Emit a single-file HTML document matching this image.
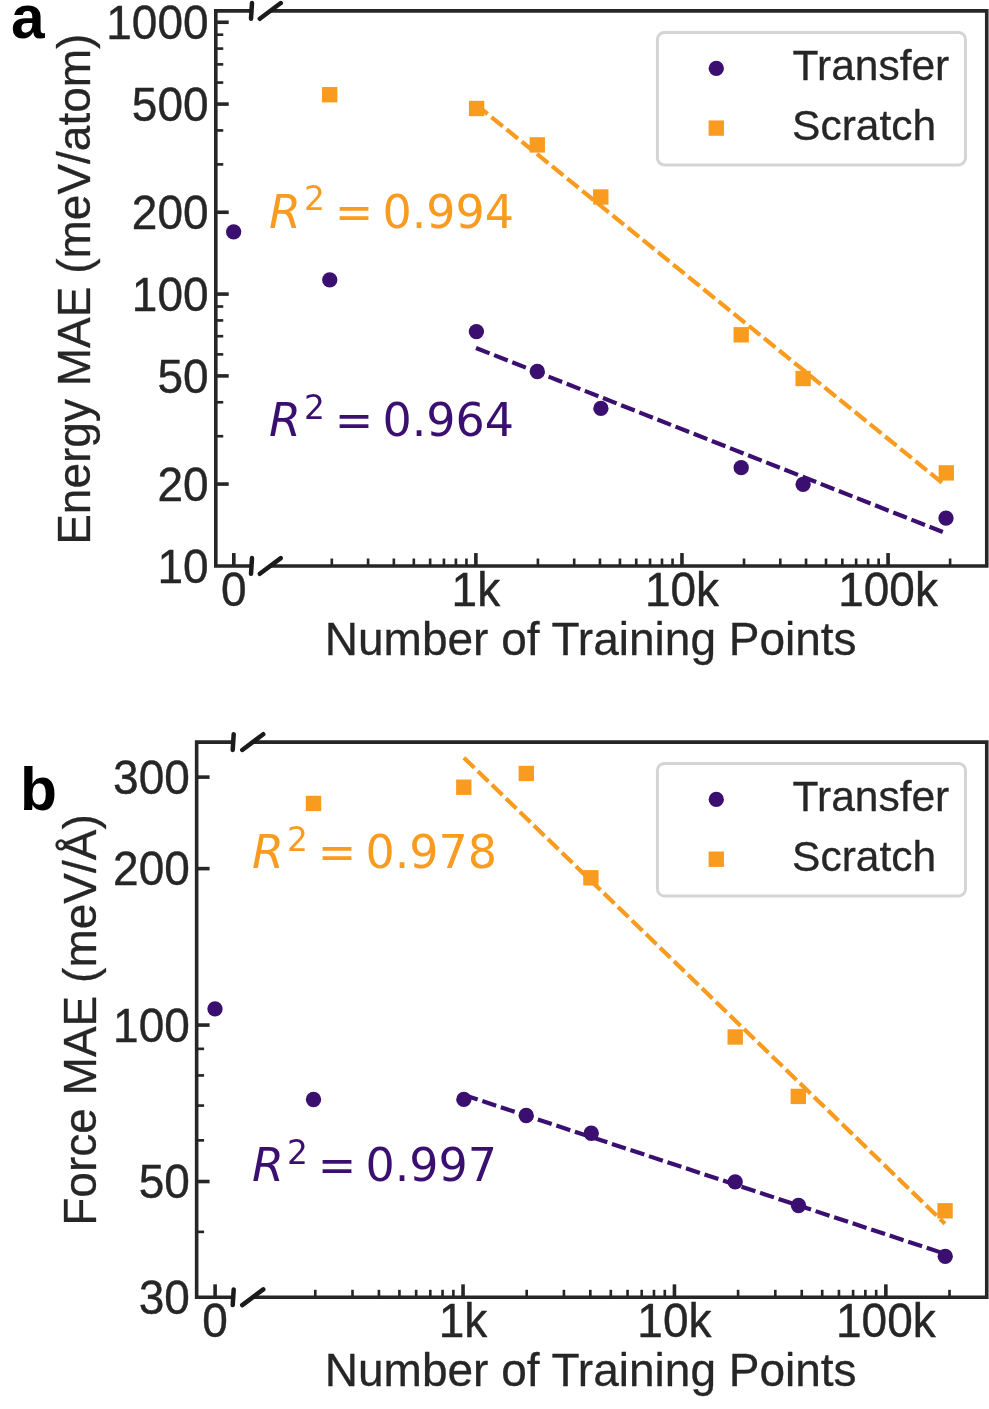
<!DOCTYPE html>
<html lang="en">
<head>
<meta charset="utf-8">
<title>Learning curves: transfer vs scratch</title>
<style>
html, body { margin: 0; padding: 0; background: #ffffff; }
body { width: 989px; height: 1409px; overflow: hidden; }
svg { display: block; opacity: 0.999; will-change: transform; }
text { white-space: pre; }
</style>
</head>
<body>
<svg width="989" height="1409" viewBox="0 0 989 1409">
<rect x="0" y="0" width="989" height="1409" fill="#ffffff"/>
<path d="M251.5 10.9 H215.8 V565.95 H251.5" fill="none" stroke="#262626" stroke-width="3.6" stroke-linejoin="miter"/>
<path d="M270.3 10.9 H986.75 V565.95 H270.3" fill="none" stroke="#262626" stroke-width="3.6" stroke-linejoin="miter"/>
<line x1="215.8" y1="22.26" x2="228.7" y2="22.26" stroke="#262626" stroke-width="3.6" stroke-linecap="butt"/>
<line x1="215.8" y1="104.09" x2="228.7" y2="104.09" stroke="#262626" stroke-width="3.6" stroke-linecap="butt"/>
<line x1="215.8" y1="212.25" x2="228.7" y2="212.25" stroke="#262626" stroke-width="3.6" stroke-linecap="butt"/>
<line x1="215.8" y1="294.08" x2="228.7" y2="294.08" stroke="#262626" stroke-width="3.6" stroke-linecap="butt"/>
<line x1="215.8" y1="375.91" x2="228.7" y2="375.91" stroke="#262626" stroke-width="3.6" stroke-linecap="butt"/>
<line x1="215.8" y1="484.07" x2="228.7" y2="484.07" stroke="#262626" stroke-width="3.6" stroke-linecap="butt"/>
<line x1="215.8" y1="34.7" x2="223.25" y2="34.7" stroke="#262626" stroke-width="2.65" stroke-linecap="butt"/>
<line x1="215.8" y1="48.6" x2="223.25" y2="48.6" stroke="#262626" stroke-width="2.65" stroke-linecap="butt"/>
<line x1="215.8" y1="64.37" x2="223.25" y2="64.37" stroke="#262626" stroke-width="2.65" stroke-linecap="butt"/>
<line x1="215.8" y1="82.56" x2="223.25" y2="82.56" stroke="#262626" stroke-width="2.65" stroke-linecap="butt"/>
<line x1="215.8" y1="130.43" x2="223.25" y2="130.43" stroke="#262626" stroke-width="2.65" stroke-linecap="butt"/>
<line x1="215.8" y1="164.39" x2="223.25" y2="164.39" stroke="#262626" stroke-width="2.65" stroke-linecap="butt"/>
<line x1="215.8" y1="306.52" x2="223.25" y2="306.52" stroke="#262626" stroke-width="2.65" stroke-linecap="butt"/>
<line x1="215.8" y1="320.42" x2="223.25" y2="320.42" stroke="#262626" stroke-width="2.65" stroke-linecap="butt"/>
<line x1="215.8" y1="336.19" x2="223.25" y2="336.19" stroke="#262626" stroke-width="2.65" stroke-linecap="butt"/>
<line x1="215.8" y1="354.38" x2="223.25" y2="354.38" stroke="#262626" stroke-width="2.65" stroke-linecap="butt"/>
<line x1="215.8" y1="402.25" x2="223.25" y2="402.25" stroke="#262626" stroke-width="2.65" stroke-linecap="butt"/>
<line x1="215.8" y1="436.21" x2="223.25" y2="436.21" stroke="#262626" stroke-width="2.65" stroke-linecap="butt"/>
<text transform="translate(208.6 38.86) scale(1.0000 1.0450)" font-size="46" text-anchor="end" fill="#262626" font-family='"Liberation Sans", sans-serif' font-weight="normal" font-style="normal" stroke="#262626" stroke-width="0.4" stroke-linejoin="round">1000</text>
<text transform="translate(208.6 120.69) scale(1.0000 1.0450)" font-size="46" text-anchor="end" fill="#262626" font-family='"Liberation Sans", sans-serif' font-weight="normal" font-style="normal" stroke="#262626" stroke-width="0.4" stroke-linejoin="round">500</text>
<text transform="translate(208.6 228.85) scale(1.0000 1.0450)" font-size="46" text-anchor="end" fill="#262626" font-family='"Liberation Sans", sans-serif' font-weight="normal" font-style="normal" stroke="#262626" stroke-width="0.4" stroke-linejoin="round">200</text>
<text transform="translate(208.6 310.68) scale(1.0000 1.0450)" font-size="46" text-anchor="end" fill="#262626" font-family='"Liberation Sans", sans-serif' font-weight="normal" font-style="normal" stroke="#262626" stroke-width="0.4" stroke-linejoin="round">100</text>
<text transform="translate(208.6 392.51) scale(1.0000 1.0450)" font-size="46" text-anchor="end" fill="#262626" font-family='"Liberation Sans", sans-serif' font-weight="normal" font-style="normal" stroke="#262626" stroke-width="0.4" stroke-linejoin="round">50</text>
<text transform="translate(208.6 500.67) scale(1.0000 1.0450)" font-size="46" text-anchor="end" fill="#262626" font-family='"Liberation Sans", sans-serif' font-weight="normal" font-style="normal" stroke="#262626" stroke-width="0.4" stroke-linejoin="round">20</text>
<text transform="translate(208.6 582.5) scale(1.0000 1.0450)" font-size="46" text-anchor="end" fill="#262626" font-family='"Liberation Sans", sans-serif' font-weight="normal" font-style="normal" stroke="#262626" stroke-width="0.4" stroke-linejoin="round">10</text>
<line x1="233.8" y1="565.95" x2="233.8" y2="553.05" stroke="#262626" stroke-width="3.6" stroke-linecap="butt"/>
<text transform="translate(233.8 605.65) scale(1.0000 1.0450)" font-size="46" text-anchor="middle" fill="#262626" font-family='"Liberation Sans", sans-serif' font-weight="normal" font-style="normal" stroke="#262626" stroke-width="0.4" stroke-linejoin="round">0</text>
<line x1="475.87" y1="565.95" x2="475.87" y2="553.05" stroke="#262626" stroke-width="3.6" stroke-linecap="butt"/>
<text transform="translate(475.87 605.65) scale(1.0000 1.0450)" font-size="46" text-anchor="middle" fill="#262626" font-family='"Liberation Sans", sans-serif' font-weight="normal" font-style="normal" stroke="#262626" stroke-width="0.4" stroke-linejoin="round">1k</text>
<line x1="681.97" y1="565.95" x2="681.97" y2="553.05" stroke="#262626" stroke-width="3.6" stroke-linecap="butt"/>
<text transform="translate(681.97 605.65) scale(1.0000 1.0450)" font-size="46" text-anchor="middle" fill="#262626" font-family='"Liberation Sans", sans-serif' font-weight="normal" font-style="normal" stroke="#262626" stroke-width="0.4" stroke-linejoin="round">10k</text>
<line x1="888.07" y1="565.95" x2="888.07" y2="553.05" stroke="#262626" stroke-width="3.6" stroke-linecap="butt"/>
<text transform="translate(888.07 605.65) scale(1.0000 1.0450)" font-size="46" text-anchor="middle" fill="#262626" font-family='"Liberation Sans", sans-serif' font-weight="normal" font-style="normal" stroke="#262626" stroke-width="0.4" stroke-linejoin="round">100k</text>
<line x1="331.81" y1="565.95" x2="331.81" y2="558.5" stroke="#262626" stroke-width="2.65" stroke-linecap="butt"/>
<line x1="368.1" y1="565.95" x2="368.1" y2="558.5" stroke="#262626" stroke-width="2.65" stroke-linecap="butt"/>
<line x1="393.85" y1="565.95" x2="393.85" y2="558.5" stroke="#262626" stroke-width="2.65" stroke-linecap="butt"/>
<line x1="413.83" y1="565.95" x2="413.83" y2="558.5" stroke="#262626" stroke-width="2.65" stroke-linecap="butt"/>
<line x1="430.15" y1="565.95" x2="430.15" y2="558.5" stroke="#262626" stroke-width="2.65" stroke-linecap="butt"/>
<line x1="443.94" y1="565.95" x2="443.94" y2="558.5" stroke="#262626" stroke-width="2.65" stroke-linecap="butt"/>
<line x1="455.9" y1="565.95" x2="455.9" y2="558.5" stroke="#262626" stroke-width="2.65" stroke-linecap="butt"/>
<line x1="466.44" y1="565.95" x2="466.44" y2="558.5" stroke="#262626" stroke-width="2.65" stroke-linecap="butt"/>
<line x1="537.91" y1="565.95" x2="537.91" y2="558.5" stroke="#262626" stroke-width="2.65" stroke-linecap="butt"/>
<line x1="574.2" y1="565.95" x2="574.2" y2="558.5" stroke="#262626" stroke-width="2.65" stroke-linecap="butt"/>
<line x1="599.95" y1="565.95" x2="599.95" y2="558.5" stroke="#262626" stroke-width="2.65" stroke-linecap="butt"/>
<line x1="619.93" y1="565.95" x2="619.93" y2="558.5" stroke="#262626" stroke-width="2.65" stroke-linecap="butt"/>
<line x1="636.25" y1="565.95" x2="636.25" y2="558.5" stroke="#262626" stroke-width="2.65" stroke-linecap="butt"/>
<line x1="650.04" y1="565.95" x2="650.04" y2="558.5" stroke="#262626" stroke-width="2.65" stroke-linecap="butt"/>
<line x1="662" y1="565.95" x2="662" y2="558.5" stroke="#262626" stroke-width="2.65" stroke-linecap="butt"/>
<line x1="672.54" y1="565.95" x2="672.54" y2="558.5" stroke="#262626" stroke-width="2.65" stroke-linecap="butt"/>
<line x1="744.01" y1="565.95" x2="744.01" y2="558.5" stroke="#262626" stroke-width="2.65" stroke-linecap="butt"/>
<line x1="780.3" y1="565.95" x2="780.3" y2="558.5" stroke="#262626" stroke-width="2.65" stroke-linecap="butt"/>
<line x1="806.05" y1="565.95" x2="806.05" y2="558.5" stroke="#262626" stroke-width="2.65" stroke-linecap="butt"/>
<line x1="826.03" y1="565.95" x2="826.03" y2="558.5" stroke="#262626" stroke-width="2.65" stroke-linecap="butt"/>
<line x1="842.35" y1="565.95" x2="842.35" y2="558.5" stroke="#262626" stroke-width="2.65" stroke-linecap="butt"/>
<line x1="856.14" y1="565.95" x2="856.14" y2="558.5" stroke="#262626" stroke-width="2.65" stroke-linecap="butt"/>
<line x1="868.1" y1="565.95" x2="868.1" y2="558.5" stroke="#262626" stroke-width="2.65" stroke-linecap="butt"/>
<line x1="878.64" y1="565.95" x2="878.64" y2="558.5" stroke="#262626" stroke-width="2.65" stroke-linecap="butt"/>
<line x1="950.11" y1="565.95" x2="950.11" y2="558.5" stroke="#262626" stroke-width="2.65" stroke-linecap="butt"/>
<line x1="251" y1="18.75" x2="252" y2="3.05" stroke="#1a1a1a" stroke-width="4.5" stroke-linecap="round"/>
<line x1="259.8" y1="18.75" x2="280.8" y2="3.05" stroke="#1a1a1a" stroke-width="4.5" stroke-linecap="round"/>
<line x1="251" y1="573.8" x2="252" y2="558.1" stroke="#1a1a1a" stroke-width="4.5" stroke-linecap="round"/>
<line x1="259.8" y1="573.8" x2="280.8" y2="558.1" stroke="#1a1a1a" stroke-width="4.5" stroke-linecap="round"/>
<line x1="476.3" y1="104.8" x2="942" y2="482.6" stroke="#f89b1f" stroke-width="4.2" stroke-linecap="butt" stroke-dasharray="14.6 4.9"/>
<line x1="476" y1="348" x2="942.8" y2="532" stroke="#3b0f70" stroke-width="4.2" stroke-linecap="butt" stroke-dasharray="14.6 4.9"/>
<rect x="322.02" y="87.03" width="15.35" height="15.35" fill="#f89b1f"/>
<rect x="468.93" y="100.83" width="15.35" height="15.35" fill="#f89b1f"/>
<rect x="529.62" y="137.22" width="15.35" height="15.35" fill="#f89b1f"/>
<rect x="593.12" y="189.32" width="15.35" height="15.35" fill="#f89b1f"/>
<rect x="733.53" y="327.12" width="15.35" height="15.35" fill="#f89b1f"/>
<rect x="795.43" y="370.82" width="15.35" height="15.35" fill="#f89b1f"/>
<rect x="938.62" y="465.22" width="15.35" height="15.35" fill="#f89b1f"/>
<circle cx="233.65" cy="231.85" r="7.67" fill="#3b0f70"/>
<circle cx="329.75" cy="279.8" r="7.67" fill="#3b0f70"/>
<circle cx="476.4" cy="331.6" r="7.67" fill="#3b0f70"/>
<circle cx="537.3" cy="371.5" r="7.67" fill="#3b0f70"/>
<circle cx="600.9" cy="408.4" r="7.67" fill="#3b0f70"/>
<circle cx="741.2" cy="467.7" r="7.67" fill="#3b0f70"/>
<circle cx="803.1" cy="484.3" r="7.67" fill="#3b0f70"/>
<circle cx="946" cy="518.1" r="7.67" fill="#3b0f70"/>
<rect x="657.4" y="32.4" width="308.1" height="132.5" rx="7" ry="7" fill="#ffffff" fill-opacity="0.8" stroke="#d4d4d4" stroke-width="3.0"/>
<circle cx="716.3" cy="68.3" r="7.67" fill="#3b0f70"/>
<rect x="708.62" y="120.42" width="15.35" height="15.35" fill="#f89b1f"/>
<text x="792.6" y="79.5" font-size="42.5" text-anchor="start" fill="#262626" font-family='"Liberation Sans", sans-serif' font-weight="normal" font-style="normal" stroke="#262626" stroke-width="0.3" stroke-linejoin="round">Transfer</text>
<text x="792.1" y="139.7" font-size="42.5" text-anchor="start" fill="#262626" font-family='"Liberation Sans", sans-serif' font-weight="normal" font-style="normal" stroke="#262626" stroke-width="0.3" stroke-linejoin="round">Scratch</text>
<text x="268.9" y="227.5" font-size="46" fill="#f89b1f" font-family='"DejaVu Sans", "Liberation Sans", sans-serif'><tspan font-style="italic">R</tspan><tspan x="303.9" dy="-17.02" font-size="32.89">2</tspan><tspan x="334.7" dy="17.02" font-size="46">=</tspan><tspan x="382.4">0.994</tspan></text>
<text x="268.9" y="435.9" font-size="46" fill="#3b0f70" font-family='"DejaVu Sans", "Liberation Sans", sans-serif'><tspan font-style="italic">R</tspan><tspan x="303.9" dy="-17.02" font-size="32.89">2</tspan><tspan x="334.7" dy="17.02" font-size="46">=</tspan><tspan x="382.4">0.964</tspan></text>
<text x="590.7" y="654.8" font-size="46" text-anchor="middle" fill="#262626" font-family='"Liberation Sans", sans-serif' font-weight="normal" font-style="normal" stroke="#262626" stroke-width="0.3" stroke-linejoin="round">Number of Training Points</text>
<text x="89.9" y="289.2" font-size="46" text-anchor="middle" fill="#262626" font-family='"Liberation Sans", sans-serif' font-weight="normal" font-style="normal" transform="rotate(-90 89.9 289.2)" stroke="#262626" stroke-width="0.3" stroke-linejoin="round">Energy MAE (meV/atom)</text>
<text x="10.9" y="38" font-size="60.5" text-anchor="start" fill="#000000" font-family='"Liberation Sans", sans-serif' font-weight="bold" font-style="normal">a</text>
<path d="M233.2 742.1 H196.65 V1297.25 H233.2" fill="none" stroke="#262626" stroke-width="3.6" stroke-linejoin="miter"/>
<path d="M252.75 742.1 H986.75 V1297.25 H252.75" fill="none" stroke="#262626" stroke-width="3.6" stroke-linejoin="miter"/>
<line x1="196.65" y1="777.11" x2="209.55" y2="777.11" stroke="#262626" stroke-width="3.6" stroke-linecap="butt"/>
<line x1="196.65" y1="868.62" x2="209.55" y2="868.62" stroke="#262626" stroke-width="3.6" stroke-linecap="butt"/>
<line x1="196.65" y1="1025.07" x2="209.55" y2="1025.07" stroke="#262626" stroke-width="3.6" stroke-linecap="butt"/>
<line x1="196.65" y1="1181.52" x2="209.55" y2="1181.52" stroke="#262626" stroke-width="3.6" stroke-linecap="butt"/>
<line x1="196.65" y1="1048.85" x2="204.1" y2="1048.85" stroke="#262626" stroke-width="2.65" stroke-linecap="butt"/>
<line x1="196.65" y1="1075.43" x2="204.1" y2="1075.43" stroke="#262626" stroke-width="2.65" stroke-linecap="butt"/>
<line x1="196.65" y1="1105.57" x2="204.1" y2="1105.57" stroke="#262626" stroke-width="2.65" stroke-linecap="butt"/>
<line x1="196.65" y1="1140.36" x2="204.1" y2="1140.36" stroke="#262626" stroke-width="2.65" stroke-linecap="butt"/>
<line x1="196.65" y1="1231.88" x2="204.1" y2="1231.88" stroke="#262626" stroke-width="2.65" stroke-linecap="butt"/>
<text transform="translate(189.8 793.71) scale(1.0000 1.0450)" font-size="46" text-anchor="end" fill="#262626" font-family='"Liberation Sans", sans-serif' font-weight="normal" font-style="normal" stroke="#262626" stroke-width="0.4" stroke-linejoin="round">300</text>
<text transform="translate(189.8 885.22) scale(1.0000 1.0450)" font-size="46" text-anchor="end" fill="#262626" font-family='"Liberation Sans", sans-serif' font-weight="normal" font-style="normal" stroke="#262626" stroke-width="0.4" stroke-linejoin="round">200</text>
<text transform="translate(189.8 1041.67) scale(1.0000 1.0450)" font-size="46" text-anchor="end" fill="#262626" font-family='"Liberation Sans", sans-serif' font-weight="normal" font-style="normal" stroke="#262626" stroke-width="0.4" stroke-linejoin="round">100</text>
<text transform="translate(189.8 1198.12) scale(1.0000 1.0450)" font-size="46" text-anchor="end" fill="#262626" font-family='"Liberation Sans", sans-serif' font-weight="normal" font-style="normal" stroke="#262626" stroke-width="0.4" stroke-linejoin="round">50</text>
<text transform="translate(189.8 1313.86) scale(1.0000 1.0450)" font-size="46" text-anchor="end" fill="#262626" font-family='"Liberation Sans", sans-serif' font-weight="normal" font-style="normal" stroke="#262626" stroke-width="0.4" stroke-linejoin="round">30</text>
<line x1="215.1" y1="1297.25" x2="215.1" y2="1284.35" stroke="#262626" stroke-width="3.6" stroke-linecap="butt"/>
<text transform="translate(215.1 1336.95) scale(1.0000 1.0450)" font-size="46" text-anchor="middle" fill="#262626" font-family='"Liberation Sans", sans-serif' font-weight="normal" font-style="normal" stroke="#262626" stroke-width="0.4" stroke-linejoin="round">0</text>
<line x1="463.05" y1="1297.25" x2="463.05" y2="1284.35" stroke="#262626" stroke-width="3.6" stroke-linecap="butt"/>
<text transform="translate(463.05 1336.95) scale(1.0000 1.0450)" font-size="46" text-anchor="middle" fill="#262626" font-family='"Liberation Sans", sans-serif' font-weight="normal" font-style="normal" stroke="#262626" stroke-width="0.4" stroke-linejoin="round">1k</text>
<line x1="674.45" y1="1297.25" x2="674.45" y2="1284.35" stroke="#262626" stroke-width="3.6" stroke-linecap="butt"/>
<text transform="translate(674.45 1336.95) scale(1.0000 1.0450)" font-size="46" text-anchor="middle" fill="#262626" font-family='"Liberation Sans", sans-serif' font-weight="normal" font-style="normal" stroke="#262626" stroke-width="0.4" stroke-linejoin="round">10k</text>
<line x1="885.85" y1="1297.25" x2="885.85" y2="1284.35" stroke="#262626" stroke-width="3.6" stroke-linecap="butt"/>
<text transform="translate(885.85 1336.95) scale(1.0000 1.0450)" font-size="46" text-anchor="middle" fill="#262626" font-family='"Liberation Sans", sans-serif' font-weight="normal" font-style="normal" stroke="#262626" stroke-width="0.4" stroke-linejoin="round">100k</text>
<line x1="315.29" y1="1297.25" x2="315.29" y2="1289.8" stroke="#262626" stroke-width="2.65" stroke-linecap="butt"/>
<line x1="352.51" y1="1297.25" x2="352.51" y2="1289.8" stroke="#262626" stroke-width="2.65" stroke-linecap="butt"/>
<line x1="378.93" y1="1297.25" x2="378.93" y2="1289.8" stroke="#262626" stroke-width="2.65" stroke-linecap="butt"/>
<line x1="399.41" y1="1297.25" x2="399.41" y2="1289.8" stroke="#262626" stroke-width="2.65" stroke-linecap="butt"/>
<line x1="416.15" y1="1297.25" x2="416.15" y2="1289.8" stroke="#262626" stroke-width="2.65" stroke-linecap="butt"/>
<line x1="430.3" y1="1297.25" x2="430.3" y2="1289.8" stroke="#262626" stroke-width="2.65" stroke-linecap="butt"/>
<line x1="442.56" y1="1297.25" x2="442.56" y2="1289.8" stroke="#262626" stroke-width="2.65" stroke-linecap="butt"/>
<line x1="453.38" y1="1297.25" x2="453.38" y2="1289.8" stroke="#262626" stroke-width="2.65" stroke-linecap="butt"/>
<line x1="526.69" y1="1297.25" x2="526.69" y2="1289.8" stroke="#262626" stroke-width="2.65" stroke-linecap="butt"/>
<line x1="563.91" y1="1297.25" x2="563.91" y2="1289.8" stroke="#262626" stroke-width="2.65" stroke-linecap="butt"/>
<line x1="590.33" y1="1297.25" x2="590.33" y2="1289.8" stroke="#262626" stroke-width="2.65" stroke-linecap="butt"/>
<line x1="610.81" y1="1297.25" x2="610.81" y2="1289.8" stroke="#262626" stroke-width="2.65" stroke-linecap="butt"/>
<line x1="627.55" y1="1297.25" x2="627.55" y2="1289.8" stroke="#262626" stroke-width="2.65" stroke-linecap="butt"/>
<line x1="641.7" y1="1297.25" x2="641.7" y2="1289.8" stroke="#262626" stroke-width="2.65" stroke-linecap="butt"/>
<line x1="653.96" y1="1297.25" x2="653.96" y2="1289.8" stroke="#262626" stroke-width="2.65" stroke-linecap="butt"/>
<line x1="664.78" y1="1297.25" x2="664.78" y2="1289.8" stroke="#262626" stroke-width="2.65" stroke-linecap="butt"/>
<line x1="738.09" y1="1297.25" x2="738.09" y2="1289.8" stroke="#262626" stroke-width="2.65" stroke-linecap="butt"/>
<line x1="775.31" y1="1297.25" x2="775.31" y2="1289.8" stroke="#262626" stroke-width="2.65" stroke-linecap="butt"/>
<line x1="801.73" y1="1297.25" x2="801.73" y2="1289.8" stroke="#262626" stroke-width="2.65" stroke-linecap="butt"/>
<line x1="822.21" y1="1297.25" x2="822.21" y2="1289.8" stroke="#262626" stroke-width="2.65" stroke-linecap="butt"/>
<line x1="838.95" y1="1297.25" x2="838.95" y2="1289.8" stroke="#262626" stroke-width="2.65" stroke-linecap="butt"/>
<line x1="853.1" y1="1297.25" x2="853.1" y2="1289.8" stroke="#262626" stroke-width="2.65" stroke-linecap="butt"/>
<line x1="865.36" y1="1297.25" x2="865.36" y2="1289.8" stroke="#262626" stroke-width="2.65" stroke-linecap="butt"/>
<line x1="876.18" y1="1297.25" x2="876.18" y2="1289.8" stroke="#262626" stroke-width="2.65" stroke-linecap="butt"/>
<line x1="949.49" y1="1297.25" x2="949.49" y2="1289.8" stroke="#262626" stroke-width="2.65" stroke-linecap="butt"/>
<line x1="232.7" y1="749.95" x2="233.7" y2="734.25" stroke="#1a1a1a" stroke-width="4.5" stroke-linecap="round"/>
<line x1="242.25" y1="749.95" x2="263.25" y2="734.25" stroke="#1a1a1a" stroke-width="4.5" stroke-linecap="round"/>
<line x1="232.7" y1="1305.1" x2="233.7" y2="1289.4" stroke="#1a1a1a" stroke-width="4.5" stroke-linecap="round"/>
<line x1="242.25" y1="1305.1" x2="263.25" y2="1289.4" stroke="#1a1a1a" stroke-width="4.5" stroke-linecap="round"/>
<line x1="463.9" y1="757.7" x2="944.9" y2="1223.65" stroke="#f89b1f" stroke-width="4.2" stroke-linecap="butt" stroke-dasharray="14.6 4.9"/>
<line x1="463.8" y1="1095" x2="944.9" y2="1253.8" stroke="#3b0f70" stroke-width="4.2" stroke-linecap="butt" stroke-dasharray="14.6 4.9"/>
<rect x="305.82" y="795.73" width="15.35" height="15.35" fill="#f89b1f"/>
<rect x="456.12" y="779.53" width="15.35" height="15.35" fill="#f89b1f"/>
<rect x="518.62" y="765.78" width="15.35" height="15.35" fill="#f89b1f"/>
<rect x="583.23" y="870.12" width="15.35" height="15.35" fill="#f89b1f"/>
<rect x="727.53" y="1029.33" width="15.35" height="15.35" fill="#f89b1f"/>
<rect x="790.62" y="1088.73" width="15.35" height="15.35" fill="#f89b1f"/>
<rect x="937.38" y="1203.12" width="15.35" height="15.35" fill="#f89b1f"/>
<circle cx="215" cy="1008.8" r="7.67" fill="#3b0f70"/>
<circle cx="313.5" cy="1099.5" r="7.67" fill="#3b0f70"/>
<circle cx="463.85" cy="1099.4" r="7.67" fill="#3b0f70"/>
<circle cx="526.2" cy="1115.5" r="7.67" fill="#3b0f70"/>
<circle cx="591.25" cy="1133.25" r="7.67" fill="#3b0f70"/>
<circle cx="735.2" cy="1181.8" r="7.67" fill="#3b0f70"/>
<circle cx="798.5" cy="1205.5" r="7.67" fill="#3b0f70"/>
<circle cx="945.25" cy="1256.3" r="7.67" fill="#3b0f70"/>
<rect x="657.4" y="763.5" width="308.1" height="132.5" rx="7" ry="7" fill="#ffffff" fill-opacity="0.8" stroke="#d4d4d4" stroke-width="3.0"/>
<circle cx="716.3" cy="799.4" r="7.67" fill="#3b0f70"/>
<rect x="708.62" y="851.53" width="15.35" height="15.35" fill="#f89b1f"/>
<text x="792.6" y="810.6" font-size="42.5" text-anchor="start" fill="#262626" font-family='"Liberation Sans", sans-serif' font-weight="normal" font-style="normal" stroke="#262626" stroke-width="0.3" stroke-linejoin="round">Transfer</text>
<text x="792.1" y="870.8" font-size="42.5" text-anchor="start" fill="#262626" font-family='"Liberation Sans", sans-serif' font-weight="normal" font-style="normal" stroke="#262626" stroke-width="0.3" stroke-linejoin="round">Scratch</text>
<text x="251.9" y="867.6" font-size="46" fill="#f89b1f" font-family='"DejaVu Sans", "Liberation Sans", sans-serif'><tspan font-style="italic">R</tspan><tspan x="286.9" dy="-17.02" font-size="32.89">2</tspan><tspan x="317.7" dy="17.02" font-size="46">=</tspan><tspan x="365.4">0.978</tspan></text>
<text x="251.9" y="1181" font-size="46" fill="#3b0f70" font-family='"DejaVu Sans", "Liberation Sans", sans-serif'><tspan font-style="italic">R</tspan><tspan x="286.9" dy="-17.02" font-size="32.89">2</tspan><tspan x="317.7" dy="17.02" font-size="46">=</tspan><tspan x="365.4">0.997</tspan></text>
<text x="590.7" y="1386.1" font-size="46" text-anchor="middle" fill="#262626" font-family='"Liberation Sans", sans-serif' font-weight="normal" font-style="normal" stroke="#262626" stroke-width="0.3" stroke-linejoin="round">Number of Training Points</text>
<text x="96.3" y="1020" font-size="46" text-anchor="middle" fill="#262626" font-family='"Liberation Sans", sans-serif' font-weight="normal" font-style="normal" transform="rotate(-90 96.3 1020)" stroke="#262626" stroke-width="0.3" stroke-linejoin="round">Force MAE (meV/Å)</text>
<text x="19.9" y="810.2" font-size="60.5" text-anchor="start" fill="#000000" font-family='"Liberation Sans", sans-serif' font-weight="bold" font-style="normal">b</text>
</svg>
</body>
</html>
